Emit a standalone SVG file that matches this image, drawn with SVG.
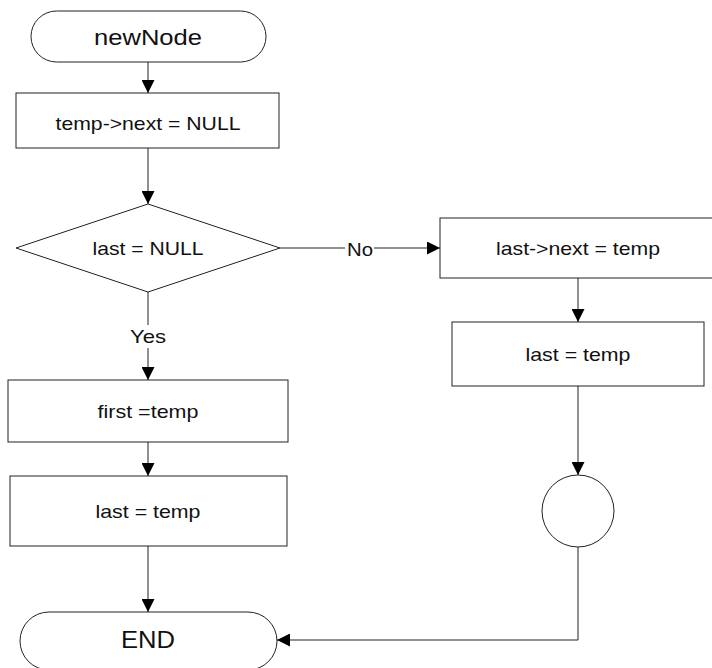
<svg xmlns="http://www.w3.org/2000/svg" width="712" height="668" viewBox="0 0 712 668">
<style>
.s{fill:#fff;stroke:#222;stroke-width:1}
.c{fill:none;stroke:#222;stroke-width:1}
.t{font-family:"Liberation Sans",Arial,sans-serif;font-size:18.5px;fill:#111;text-anchor:middle}
.b{font-size:22px}
.e{font-size:24px}
</style>
<defs>
<marker id="ah" markerUnits="userSpaceOnUse" markerWidth="13" markerHeight="13" refX="13" refY="6.5" orient="auto">
<path d="M0,0 L13,6.5 L0,13 z" fill="#000"/>
</marker>
</defs>
<g id="connectors">
<path class="c" d="M148,62 V93" marker-end="url(#ah)"/>
<path class="c" d="M148,148 V204" marker-end="url(#ah)"/>
<path class="c" d="M280,248 H345"/>
<path class="c" d="M374,248 H440" marker-end="url(#ah)"/>
<path class="c" d="M148,292 V325"/>
<path class="c" d="M148,348 V380" marker-end="url(#ah)"/>
<path class="c" d="M148,442 V476" marker-end="url(#ah)"/>
<path class="c" d="M148,546 V612" marker-end="url(#ah)"/>
<path class="c" d="M578,278 V322" marker-end="url(#ah)"/>
<path class="c" d="M578,386 V475" marker-end="url(#ah)"/>
<path class="c" d="M578,547 V640 H277" marker-end="url(#ah)"/>
<text class="t" x="360" y="256" textLength="26" lengthAdjust="spacingAndGlyphs">No</text>
<text class="t" x="148" y="343" textLength="36" lengthAdjust="spacingAndGlyphs">Yes</text>
</g>
<g id="start">
<rect class="s" x="31" y="11" width="235" height="51" rx="25.5"/>
<text class="t b" x="148" y="45" textLength="108" lengthAdjust="spacingAndGlyphs">newNode</text>
</g>
<g id="setNull">
<rect class="s" x="16" y="93" width="263" height="55"/>
<text class="t" x="148" y="130" textLength="185" lengthAdjust="spacingAndGlyphs">temp-&gt;next = NULL</text>
</g>
<g id="decision">
<polygon class="s" points="148,204 280,248 148,292 16,248"/>
<text class="t" x="148" y="255" textLength="111" lengthAdjust="spacingAndGlyphs">last = NULL</text>
</g>
<g id="firstTemp">
<rect class="s" x="8" y="380" width="280" height="62"/>
<text class="t" x="148" y="418" textLength="101" lengthAdjust="spacingAndGlyphs">first =temp</text>
</g>
<g id="lastTempLeft">
<rect class="s" x="10" y="476" width="277" height="70"/>
<text class="t" x="148" y="518" textLength="105" lengthAdjust="spacingAndGlyphs">last = temp</text>
</g>
<g id="end">
<rect class="s" x="20" y="612" width="257" height="58" rx="29"/>
<text class="t e" x="148" y="648" textLength="54" lengthAdjust="spacingAndGlyphs">END</text>
</g>
<g id="lastNext">
<rect class="s" x="440" y="218" width="276" height="60"/>
<text class="t" x="578" y="255" textLength="164" lengthAdjust="spacingAndGlyphs">last-&gt;next = temp</text>
</g>
<g id="lastTempRight">
<rect class="s" x="452" y="322" width="252" height="64"/>
<text class="t" x="578" y="361" textLength="105" lengthAdjust="spacingAndGlyphs">last = temp</text>
</g>
<g id="connector">
<circle class="s" cx="578" cy="511" r="36"/>
</g>
</svg>
